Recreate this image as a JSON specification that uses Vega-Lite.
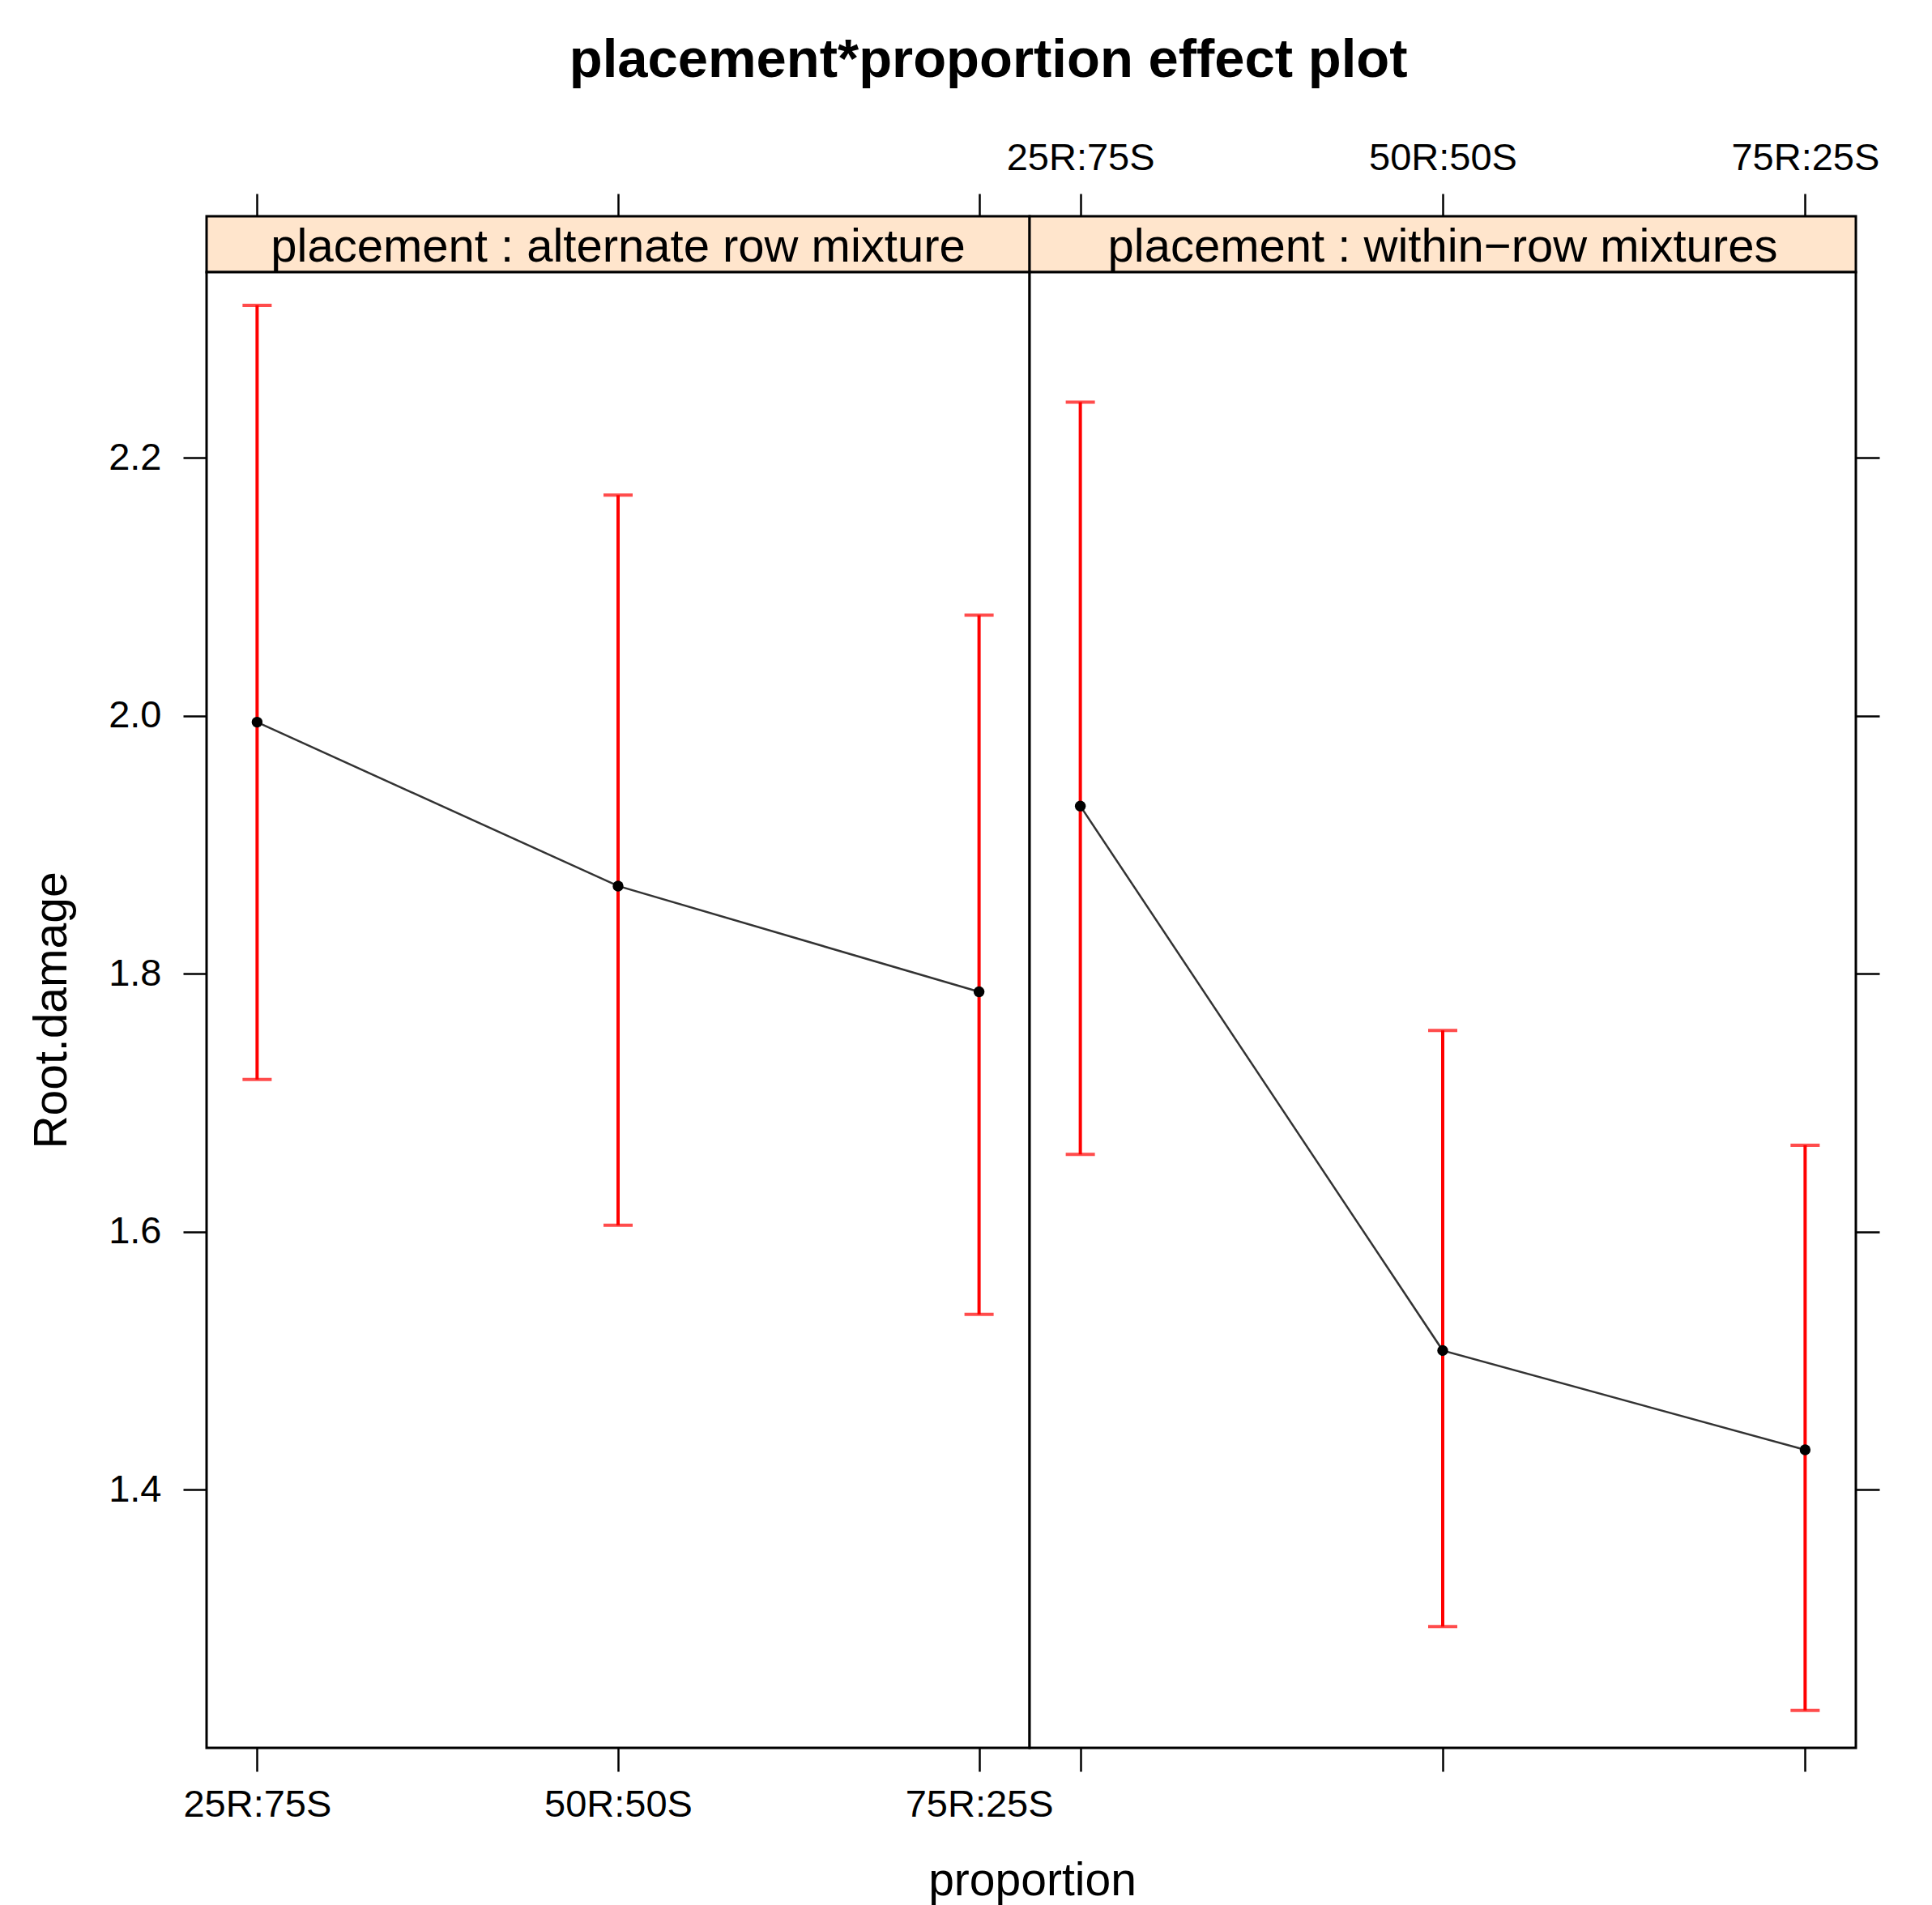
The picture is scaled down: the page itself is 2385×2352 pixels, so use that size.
{
  "$schema": "https://vega.github.io/schema/vega-lite/v6.json",
  "background": "white",
  "padding": {"left": 33, "top": 40, "right": 10, "bottom": 10},
  "datasets": {
    "effects": [
      {"placement": "alternate row mixture", "proportion": "25R:75S", "fit": 1.995, "lower": 1.718, "upper": 2.318},
      {"placement": "alternate row mixture", "proportion": "50R:50S", "fit": 1.868, "lower": 1.605, "upper": 2.171},
      {"placement": "alternate row mixture", "proportion": "75R:25S", "fit": 1.786, "lower": 1.536, "upper": 2.078},
      {"placement": "within-row mixtures", "proportion": "25R:75S", "fit": 1.930, "lower": 1.660, "upper": 2.243},
      {"placement": "within-row mixtures", "proportion": "50R:50S", "fit": 1.508, "lower": 1.294, "upper": 1.756},
      {"placement": "within-row mixtures", "proportion": "75R:25S", "fit": 1.431, "lower": 1.229, "upper": 1.667}
    ]
  },
  "title": {
    "text": "placement*proportion effect plot",
    "font": "Liberation Sans",
    "fontSize": 67,
    "fontWeight": "bold",
    "color": "black",
    "anchor": "middle",
    "baseline": "alphabetic",
    "offset": 8,
    "dx": 42
  },
  "bounds": "flush",
  "spacing": 0,
  "columns": 2,
  "concat": [
    {
      "width": 1016,
      "height": 69,
      "view": {"fill": "#ffe5cc", "stroke": "black", "strokeWidth": 3},
      "data": {"values": [{"strip": "placement : alternate row mixture"}]},
      "mark": {"type": "text", "font": "Liberation Sans", "fontSize": 58, "baseline": "alphabetic", "dy": 21, "color": "black"},
      "encoding": {
        "x": {
          "datum": "50R:50S",
          "type": "nominal",
          "scale": {"type": "point", "domain": ["25R:75S", "50R:50S", "75R:25S"], "padding": 0.14},
          "axis": {"orient": "top", "labels": false, "title": null, "tickSize": 28}
        },
        "text": {"field": "strip", "type": "nominal"}
      }
    },
    {
      "width": 1020,
      "height": 69,
      "view": {"fill": "#ffe5cc", "stroke": "black", "strokeWidth": 3},
      "data": {"values": [{"strip": "placement : within\u2212row mixtures"}]},
      "mark": {"type": "text", "font": "Liberation Sans", "fontSize": 58, "baseline": "alphabetic", "dy": 21, "color": "black"},
      "encoding": {
        "x": {
          "datum": "50R:50S",
          "type": "nominal",
          "scale": {"type": "point", "domain": ["25R:75S", "50R:50S", "75R:25S"], "padding": 0.14},
          "axis": {"orient": "top", "labelAngle": 0, "labelPadding": 20, "title": null, "tickSize": 28}
        },
        "text": {"field": "strip", "type": "nominal"}
      }
    },
    {
      "width": 1016,
      "height": 1822,
      "view": {"fill": "white", "stroke": "black", "strokeWidth": 3},
      "data": {"name": "effects"},
      "transform": [{"filter": "datum.placement == 'alternate row mixture'"}],
      "encoding": {
        "x": {
          "field": "proportion",
          "type": "nominal",
          "scale": {"type": "point", "domain": ["25R:75S", "50R:50S", "75R:25S"], "padding": 0.14},
          "axis": {"orient": "bottom", "labelAngle": 0, "labelPadding": 18, "title": "proportion", "titleX": 1019, "titleY": 181, "titleBaseline": "alphabetic", "titleAlign": "center"}
        }
      },
      "layer": [
        {
          "mark": {"type": "rule", "color": "#ff0000", "strokeWidth": 4},
          "encoding": {
            "y": {"field": "lower", "type": "quantitative", "title": "Root.damage", "scale": {"domain": [1.2, 2.3438], "zero": false, "nice": false},
              "axis": {"orient": "left", "values": [1.4, 1.6, 1.8, 2.0, 2.2], "format": ".1f", "labelPadding": 27, "titleX": -174, "titleY": 911, "titleBaseline": "alphabetic", "titleAngle": 270, "titleAlign": "center"}},
            "y2": {"field": "upper"}
          }
        },
        {
          "mark": {"type": "tick", "color": "#ff0000", "size": 36, "thickness": 4, "orient": "horizontal"},
          "encoding": {"y": {"field": "lower", "type": "quantitative", "title": "Root.damage"}}
        },
        {
          "mark": {"type": "tick", "color": "#ff0000", "size": 36, "thickness": 4, "orient": "horizontal"},
          "encoding": {"y": {"field": "upper", "type": "quantitative", "title": "Root.damage"}}
        },
        {
          "mark": {"type": "line", "color": "#333333", "strokeWidth": 2.5},
          "encoding": {"y": {"field": "fit", "type": "quantitative", "title": "Root.damage"}}
        },
        {
          "mark": {"type": "point", "shape": "circle", "filled": true, "color": "black", "size": 180, "opacity": 1},
          "encoding": {"y": {"field": "fit", "type": "quantitative", "title": "Root.damage"}}
        }
      ]
    },
    {
      "width": 1020,
      "height": 1822,
      "view": {"fill": "white", "stroke": "black", "strokeWidth": 3},
      "data": {"name": "effects"},
      "transform": [{"filter": "datum.placement == 'within-row mixtures'"}],
      "encoding": {
        "x": {
          "field": "proportion",
          "type": "nominal",
          "scale": {"type": "point", "domain": ["25R:75S", "50R:50S", "75R:25S"], "padding": 0.14},
          "axis": {"orient": "bottom", "labels": false, "title": null}
        }
      },
      "layer": [
        {
          "mark": {"type": "rule", "color": "#ff0000", "strokeWidth": 4},
          "encoding": {
            "y": {"field": "lower", "type": "quantitative", "title": null, "scale": {"domain": [1.2, 2.3438], "zero": false, "nice": false},
              "axis": {"orient": "right", "values": [1.4, 1.6, 1.8, 2.0, 2.2], "labels": false, "title": null}},
            "y2": {"field": "upper"}
          }
        },
        {
          "mark": {"type": "tick", "color": "#ff0000", "size": 36, "thickness": 4, "orient": "horizontal"},
          "encoding": {"y": {"field": "lower", "type": "quantitative", "title": null}}
        },
        {
          "mark": {"type": "tick", "color": "#ff0000", "size": 36, "thickness": 4, "orient": "horizontal"},
          "encoding": {"y": {"field": "upper", "type": "quantitative", "title": null}}
        },
        {
          "mark": {"type": "line", "color": "#333333", "strokeWidth": 2.5},
          "encoding": {"y": {"field": "fit", "type": "quantitative", "title": null}}
        },
        {
          "mark": {"type": "point", "shape": "circle", "filled": true, "color": "black", "size": 180, "opacity": 1},
          "encoding": {"y": {"field": "fit", "type": "quantitative", "title": null}}
        }
      ]
    }
  ],
  "config": {
    "font": "Liberation Sans",
    "axis": {
      "labelFont": "Liberation Sans",
      "labelFontSize": 47,
      "labelColor": "black",
      "labelLimit": 1000,
      "tickColor": "black",
      "tickWidth": 2.5,
      "tickSize": 29,
      "domain": false,
      "grid": false,
      "labelFlush": false,
      "labelOverlap": false,
      "titleFont": "Liberation Sans",
      "titleFontSize": 57,
      "titleFontWeight": "normal",
      "titleColor": "black"
    }
  }
}
